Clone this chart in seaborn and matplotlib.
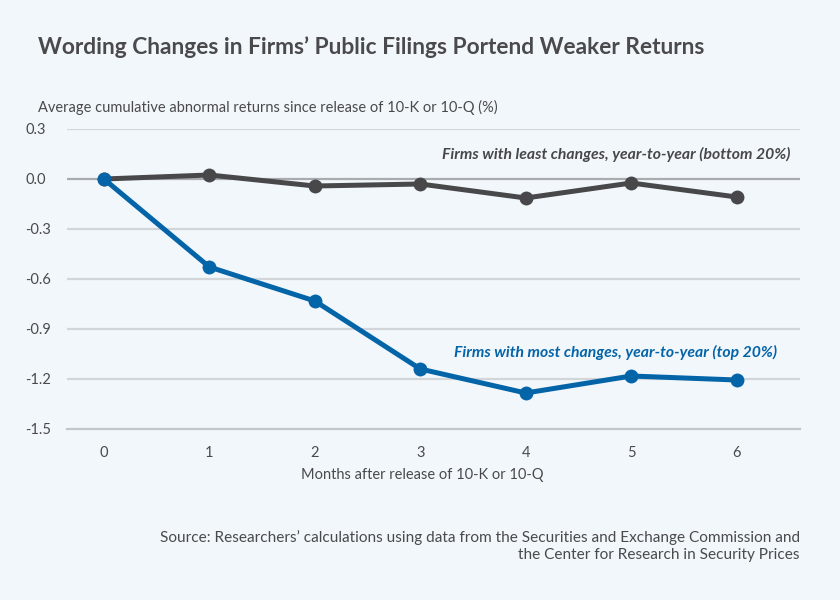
import pandas as pd
import seaborn as sns
import matplotlib.pyplot as plt

months = [0, 1, 2, 3, 4, 5, 6]
least_changes = [0.0, 0.024, -0.042, -0.03, -0.114, -0.024, -0.108]
most_changes = [0.0, -0.528, -0.732, -1.14, -1.284, -1.182, -1.206]
y_ticks = [0.3, 0.0, -0.3, -0.6, -0.9, -1.2, -1.5]

least_label = "Firms with least changes, year-to-year (bottom 20%)"
most_label = "Firms with most changes, year-to-year (top 20%)"

BG = "#f2f7fb"
BLUE = "#0464a8"
GRAY = "#48484a"
TEXT = "#4a4a4c"

df = pd.concat([
    pd.DataFrame({"month": months, "ret": least_changes, "group": "least"}),
    pd.DataFrame({"month": months, "ret": most_changes, "group": "most"}),
])

sns.set_theme(style="white")
plt.rcParams["font.family"] = ["Lato", "DejaVu Sans"]

fig = plt.figure(figsize=(8.4, 6), dpi=100, facecolor=BG)
ax = fig.add_axes([67 / 840, 1 - 429 / 600, (800 - 67) / 840, 300 / 600])
ax.set_facecolor(BG)

for y in y_ticks:
    if y == -1.5:
        continue
    ax.axhline(y, color="#a9abae" if y == 0 else "#d3d6d9", lw=1.6, zorder=0)

sns.lineplot(data=df, x="month", y="ret", hue="group", palette={"least": GRAY, "most": BLUE},
             marker="o", markersize=10, markeredgewidth=0, linewidth=3.6, legend=False, ax=ax,
             zorder=3)

ax.set_xlim(-0.35, 6.6)
ax.set_ylim(-1.5, 0.3)
ax.set_xticks(months)
ax.set_yticks(y_ticks)
ax.set_yticklabels([f"{v:.1f}" for v in y_ticks])
for s in ["top", "right", "left"]:
    ax.spines[s].set_visible(False)
ax.spines["bottom"].set_color("#c4c7ca")
ax.spines["bottom"].set_linewidth(1.6)
ax.tick_params(axis="x", length=8, width=1, color="#a9abae", direction="out",
               labelsize=10.5, labelcolor=TEXT, pad=4)
ax.tick_params(axis="y", length=0, labelsize=10.5, labelcolor=TEXT, pad=10)
for lbl in ax.get_yticklabels():
    lbl.set_horizontalalignment("left")
    lbl.set_x(-0.038)
ax.set_xlabel("Months after release of 10-K or 10-Q", fontsize=10.5, color=TEXT, labelpad=10)
ax.xaxis.set_label_coords(0.485, -0.13)
ax.set_ylabel("")

ax.text(6.51, 0.15, least_label, ha="right", va="center", fontsize=11.3,
        style="italic", fontweight="bold", color=GRAY)
ax.text(6.38, -1.04, most_label, ha="right", va="center", fontsize=11.3,
        style="italic", fontweight="bold", color=BLUE)

fig.text(38 / 840, 1 - 47 / 600, "Wording Changes in Firms\u2019 Public Filings Portend Weaker Returns",
         ha="left", va="center", fontsize=16.4, fontweight="bold", color=TEXT)
fig.text(38 / 840, 1 - 107 / 600, "Average cumulative abnormal returns since release of 10-K or 10-Q (%)",
         ha="left", va="center", fontsize=10.5, color=TEXT)
fig.text(800 / 840, 1 - 546 / 600,
         "Source: Researchers\u2019 calculations using data from the Securities and Exchange Commission and\n"
         "the Center for Research in Security Prices",
         ha="right", va="center", fontsize=11.1, color=TEXT, linespacing=1.3)

plt.savefig("out.png", dpi=100, facecolor=BG)
plt.close()
